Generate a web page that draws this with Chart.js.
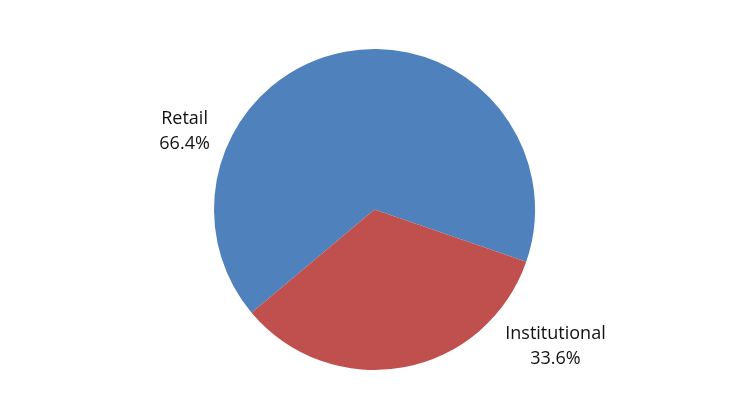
<!DOCTYPE html>
<html>
<head>
    <title>Retail vs Institutional</title>
    <script src="https://cdn.jsdelivr.net/npm/chart.js"></script>
    <style>
        html, body { margin: 0; padding: 0; background: #fff; }
    </style>
</head>
<body>
    <canvas id="pieChart" width="749" height="419"></canvas>

    <script>
        // données
        const categories = ['Retail', 'Institutional'];
        const shares = [66.4, 33.6];
        const sliceColors = ['#4F81BD', '#C0504D'];

        // étiquettes placées autour du camembert (angle en degrés, distance en rayons)
        const labelSpots = [
            { angle: 202.4, dist: 1.28 },
            { angle: 36.9, dist: 1.41 }
        ];

        const pieLabels = {
            id: 'pieLabels',
            afterDatasetsDraw(chart) {
                const ctx = chart.ctx;
                const arc = chart.getDatasetMeta(0).data[0];
                const cx = arc.x, cy = arc.y, r = arc.outerRadius;
                ctx.save();
                ctx.font = '18px "Open Sans", "Liberation Sans", sans-serif';
                ctx.fillStyle = '#111';
                ctx.textAlign = 'center';
                ctx.textBaseline = 'middle';
                categories.forEach((name, i) => {
                    const a = labelSpots[i].angle * Math.PI / 180;
                    const x = cx + Math.cos(a) * r * labelSpots[i].dist;
                    const y = cy + Math.sin(a) * r * labelSpots[i].dist;
                    ctx.fillText(name, x, y - 12);
                    ctx.fillText(shares[i].toFixed(1) + '%', x, y + 13);
                });
                ctx.restore();
            }
        };

        new Chart(document.getElementById('pieChart'), {
            type: 'pie',
            data: {
                labels: categories,
                datasets: [{
                    data: shares,
                    backgroundColor: sliceColors,
                    borderWidth: 0
                }]
            },
            options: {
                responsive: false,
                animation: false,
                rotation: 230,
                layout: { padding: { top: 49, bottom: 49 } },
                plugins: {
                    legend: { display: false },
                    tooltip: { enabled: false }
                }
            },
            plugins: [pieLabels]
        });
    </script>
</body>
</html>
